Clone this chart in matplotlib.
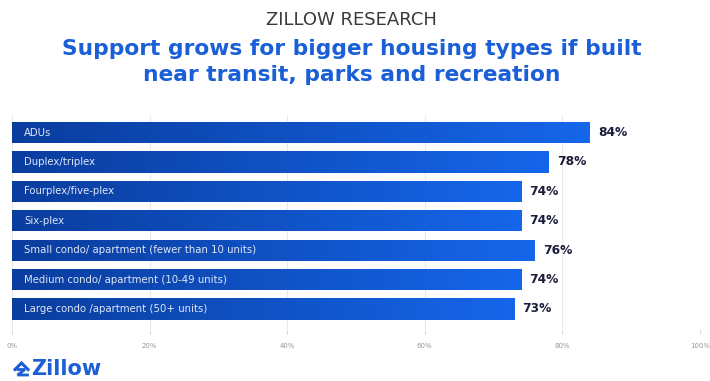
import numpy as np
import matplotlib.pyplot as plt
from matplotlib.colors import LinearSegmentedColormap
from matplotlib.lines import Line2D

# Share of respondents supporting each housing type if built near amenities
housing_types = [
    "ADUs",
    "Duplex/triplex",
    "Fourplex/five-plex",
    "Six-plex",
    "Small condo/ apartment (fewer than 10 units)",
    "Medium condo/ apartment (10-49 units)",
    "Large condo /apartment (50+ units)",
]
support_pct = [84, 78, 74, 74, 76, 74, 73]
tick_values = [0, 20, 40, 60, 80, 100]
tick_labels = ["0%", "20%", "40%", "60%", "80%", "100%"]

W, H = 710, 381
fig = plt.figure(figsize=(W / 100, H / 100), dpi=100)
fig.patch.set_facecolor("white")

ZBLUE = "#1a5fd6"

# axes placed in pixel terms
left, right, top, bottom = 12, 700, 115, 330
ax = fig.add_axes([left / W, 1 - bottom / H, (right - left) / W, (bottom - top) / H])

blue_grad = LinearSegmentedColormap.from_list("zblue", ["#0a3d9e", "#1666ea"])
grad = np.linspace(0, 1, 256).reshape(1, -1)

y = np.arange(len(housing_types))
bars = ax.barh(y, support_pct, height=0.72, color="#0f52c4", zorder=2)
for bar, val, name in zip(bars, support_pct, housing_types):
    x0, y0 = bar.get_x(), bar.get_y()
    im = ax.imshow(grad, cmap=blue_grad, aspect="auto", zorder=3,
                   extent=[x0, x0 + bar.get_width(), y0 + bar.get_height(), y0])
    im.set_clip_path(bar)
    ax.text(1.8, y0 + bar.get_height() / 2, name, color="#dfe7f8",
            fontsize=7.3, family="DejaVu Sans", va="center", ha="left", zorder=4)
    ax.text(val + 1.2, y0 + bar.get_height() / 2, f"{val}%",
            color="#1b1d3a", fontsize=8.8, family="DejaVu Sans", weight="bold",
            va="center", ha="left", zorder=4)

ax.set_xlim(0, 100)
ax.set_ylim(len(housing_types) - 1 + 0.714, -0.595)
ax.set_xticks(tick_values)
ax.set_xticklabels(tick_labels)
ax.set_yticks([])
ax.tick_params(axis="x", length=3, color="#d8d8d8", labelsize=5, labelcolor="#9a9a9a", pad=6)
ax.grid(axis="x", color="#e8e8e8", linewidth=0.8, zorder=0)
for s in ax.spines.values():
    s.set_visible(False)

# headings
fig.text(0.495, 1 - 20 / H, "ZILLOW RESEARCH", ha="center", va="center",
         fontsize=13, family="DejaVu Sans", color="#3a3a3a")
fig.text(0.495, 1 - 49 / H, "Support grows for bigger housing types if built",
         ha="center", va="center", fontsize=15.7, family="DejaVu Sans", weight="bold", color=ZBLUE)
fig.text(0.495, 1 - 75 / H, "near transit, parks and recreation",
         ha="center", va="center", fontsize=15.7, family="DejaVu Sans", weight="bold", color=ZBLUE)

# logo: roof chevron with a Z stroke, then the wordmark
def px(xs, ys):
    return [x / W for x in xs], [1 - v / H for v in ys]

roof = Line2D(*px([15, 21.5, 28], [369.5, 363, 369.5]), transform=fig.transFigure,
              color=ZBLUE, linewidth=2.2, solid_joinstyle="miter")
zmark = Line2D(*px([18, 25, 17.5, 27.5], [369.5, 369.5, 375, 375]), transform=fig.transFigure,
               color=ZBLUE, linewidth=2.0, solid_joinstyle="miter")
fig.lines.extend([roof, zmark])
fig.text(31 / W, 1 - 369 / H, "Zillow", ha="left", va="center", fontsize=15,
         family="DejaVu Sans", weight="bold", color=ZBLUE)

fig.savefig("out.png", dpi=100)
